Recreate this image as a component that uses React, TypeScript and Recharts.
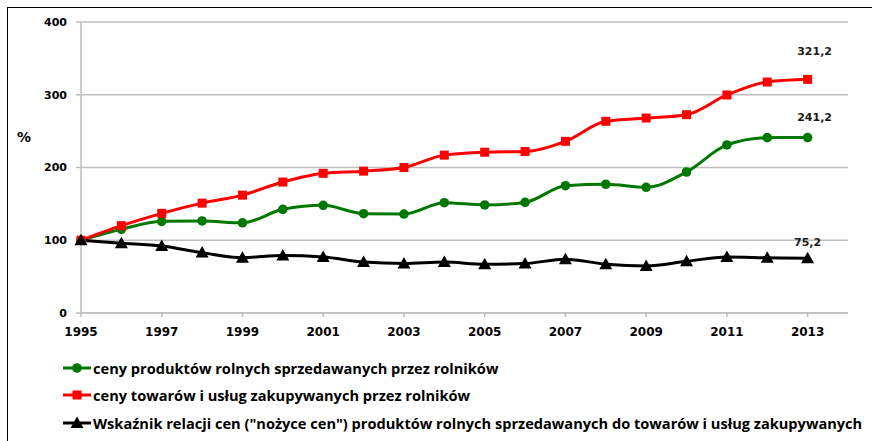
import { CartesianGrid, Line, LineChart, XAxis, YAxis } from "recharts";

const YEARS = [1995, 1996, 1997, 1998, 1999, 2000, 2001, 2002, 2003, 2004, 2005, 2006, 2007, 2008, 2009, 2010, 2011, 2012, 2013];
const PRODUKTY = [100, 115, 126, 126.5, 124, 142.5, 148, 136.5, 136, 151.6, 148.5, 152, 175, 177, 172.8, 193.8, 231, 241, 241.2];
const TOWARY = [100, 120, 137, 151, 162, 180, 192, 195, 200, 217, 221, 222, 236, 263.5, 268, 272.6, 299.7, 317.5, 321.2];
const WSKAZNIK = [100, 96, 92, 83, 76, 79, 77, 70, 68, 70, 67, 68, 74, 67, 64.5, 71, 77, 76, 75.2];
const X_TICKS = [1995, 1997, 1999, 2001, 2003, 2005, 2007, 2009, 2011, 2013];
const Y_TICKS = [0, 100, 200, 300, 400];

const SERIES = [
  { key: "produkty", name: "ceny produktów rolnych sprzedawanych przez rolników", color: "#007800", marker: "circle", labelDy: -20, labelDx: 7 },
  { key: "towary", name: "ceny towarów i usług zakupywanych przez rolników", color: "#FF0000", marker: "square", labelDy: -28, labelDx: 7 },
  { key: "wskaznik", name: 'Wskaźnik relacji cen ("nożyce cen") produktów rolnych sprzedawanych do towarów i usług zakupywanych', color: "#000000", marker: "triangle", labelDy: -16, labelDx: 0 },
];

const DATA = YEARS.map((year, i) => ({
  year,
  produkty: PRODUKTY[i],
  towary: TOWARY[i],
  wskaznik: WSKAZNIK[i],
}));

const GRID = "#BEBEBE";
const NUM_FONT = "'DejaVu Sans', Verdana, sans-serif";

function Marker({ cx, cy, type, color }: { cx: number; cy: number; type: string; color: string }) {
  if (cx == null || cy == null) return null;
  if (type === "circle") return <circle cx={cx} cy={cy} r={4.8} fill={color} />;
  if (type === "square") return <rect x={cx - 4.5} y={cy - 4.5} width={9} height={9} fill={color} />;
  return <polygon points={`${cx},${cy - 6.5} ${cx + 6.5},${cy + 5} ${cx - 6.5},${cy + 5}`} fill={color} />;
}

function LastLabel(props: any, s: (typeof SERIES)[number]) {
  const { x, y, value, index } = props;
  if (index !== YEARS.length - 1) return null;
  return (
    <text
      key={s.key + "-label"}
      x={x + s.labelDx}
      y={y + s.labelDy}
      textAnchor="middle"
      dominantBaseline="central"
      fontFamily={NUM_FONT}
      fontWeight="bold"
      fontSize={11}
      fill="#1a1a1a"
    >
      {String(value).replace(".", ",")}
    </text>
  );
}

function LegendIcon({ type, color }: { type: string; color: string }) {
  return (
    <svg width={28} height={14} style={{ marginRight: 2, flex: "none" }}>
      <line x1={0} y1={7} x2={28} y2={7} stroke={color} strokeWidth={3} />
      <Marker cx={14} cy={7} type={type} color={color} />
    </svg>
  );
}

export default function App() {
  return (
    <div style={{ position: "absolute", left: 0, top: 0, width: 872, height: 441, overflow: "hidden", background: "#fff" }}>
      <div style={{ position: "absolute", left: 7, top: 7, width: 900, height: 460, borderTop: "1px solid #000", borderLeft: "1px solid #000" }} />
      <LineChart width={872} height={441} data={DATA} margin={{ top: 22, right: 24, left: 17, bottom: 98 }}>
        <CartesianGrid horizontal vertical={false} stroke={GRID} strokeWidth={1.5} />
        <XAxis
          dataKey="year"
          type="number"
          domain={[1995, 2014]}
          ticks={X_TICKS}
          height={30}
          stroke={GRID}
          strokeWidth={1.5}
          tickSize={4}
          tickMargin={10}
          tick={{ fontFamily: NUM_FONT, fontWeight: "bold", fontSize: 12, fill: "#000" }}
        />
        <YAxis
          domain={[0, 400]}
          ticks={Y_TICKS}
          width={64}
          stroke={GRID}
          strokeWidth={1.5}
          tickSize={5}
          tickMargin={9}
          tick={{ fontFamily: NUM_FONT, fontWeight: "bold", fontSize: 11, fill: "#000" }}
          label={{ value: "%", position: "insideLeft", offset: 0, dy: -30, fontFamily: NUM_FONT, fontWeight: "bold", fontSize: 14, fill: "#000" }}
        />
        {SERIES.map((s) => (
          <Line
            key={s.key}
            dataKey={s.key}
            name={s.name}
            type="monotone"
            stroke={s.color}
            strokeWidth={3}
            isAnimationActive={false}
            dot={(p: any) => <Marker key={s.key + p.index} cx={p.cx} cy={p.cy} type={s.marker} color={s.color} />}
            activeDot={false}
            label={(p: any) => LastLabel(p, s)}
          />
        ))}
      </LineChart>
      <div style={{ position: "absolute", left: 63, top: 354, fontFamily: "'Open Sans', sans-serif", fontWeight: 700, fontSize: 14.6, color: "#000" }}>
        {SERIES.map((s) => (
          <div key={s.key} style={{ display: "flex", alignItems: "center", height: 27.5, whiteSpace: "nowrap" }}>
            <LegendIcon type={s.marker} color={s.color} />
            <span>{s.name}</span>
          </div>
        ))}
      </div>
    </div>
  );
}
